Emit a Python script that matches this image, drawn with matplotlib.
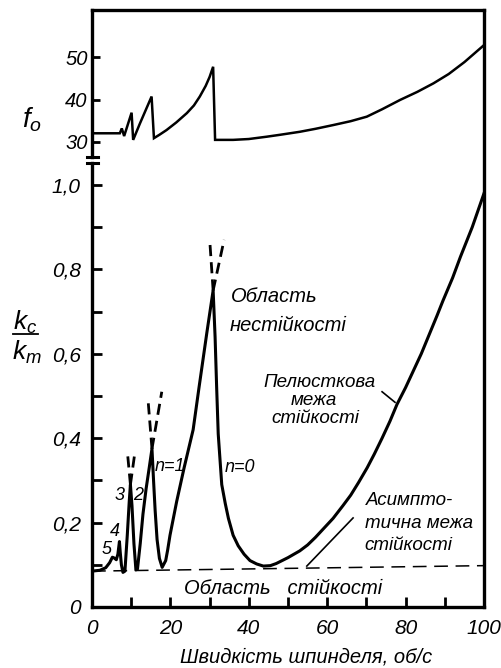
import numpy as np
import matplotlib.pyplot as plt
from matplotlib.lines import Line2D

plt.rcParams['font.family'] = ['Liberation Sans', 'DejaVu Sans']
plt.rcParams['font.style'] = 'italic'
plt.rcParams['mathtext.fontset'] = 'custom'
plt.rcParams['mathtext.it'] = 'Liberation Sans:italic'
plt.rcParams['mathtext.rm'] = 'Liberation Sans:italic'

# top panel: natural frequency f0 vs spindle speed
f0_x = [0, 1.2, 7.1, 7.6, 8.2, 10.1, 10.5, 12.2, 15.2, 15.8, 17.2, 19.0, 21.5, 24.2,
        26.0, 27.5, 29.0, 30.0, 30.9, 31.4, 36.0, 40.0, 44.6, 48.0, 53.0, 57.0, 61.6,
        66.0, 70.1, 74.0, 78.6, 83.0, 87.1, 91.0, 95.0, 100]
f0_y = [32.05, 32.05, 32.05, 33.2, 31.4, 36.9, 30.5, 34.3, 40.7, 30.9, 31.7, 32.8, 34.6,
        36.8, 38.6, 40.7, 43.2, 45.3, 47.7, 30.5, 30.5, 30.7, 31.25, 31.7, 32.4, 33.1,
        34.0, 34.9, 35.96, 37.7, 39.9, 41.8, 43.8, 46.0, 48.8, 52.8]

# bottom panel: stability lobe envelope kc/km
lobe_x = [0, 2.0, 3.5, 4.5, 5.2, 5.7, 6.2, 6.6, 7.0, 7.2, 7.5, 7.9, 8.4, 9.0, 9.5, 9.8,
          10.2, 10.7, 11.2, 11.6, 12.3, 13.0, 13.8, 14.6, 15.3, 15.7, 16.1, 16.6, 17.2,
          17.9, 18.8, 19.3, 19.9, 21.6, 23.5, 25.8, 27.3, 29.3, 30.9, 31.4, 31.8, 32.2,
          33.1, 34.0, 34.8, 36.0, 37.3, 38.8, 40.3, 42.0, 43.7, 45.5, 47.0, 50.0, 53.0,
          55.0, 57.0, 59.0, 61.5, 64.0, 66.0, 68.0, 70.2, 72.0, 74.0, 76.0, 77.8, 80.0,
          82.0, 84.0, 86.0, 88.0, 89.5, 92.0, 94.0, 97.0, 100.0]
lobe_v = [0.085, 0.087, 0.093, 0.105, 0.118, 0.116, 0.112, 0.125, 0.155, 0.13, 0.10, 0.082,
          0.085, 0.17, 0.25, 0.29, 0.24, 0.15, 0.088, 0.09, 0.15, 0.22, 0.28, 0.33, 0.375,
          0.30, 0.23, 0.16, 0.115, 0.094, 0.11, 0.135, 0.17, 0.25, 0.33, 0.42, 0.52, 0.65,
          0.75, 0.64, 0.52, 0.41, 0.29, 0.245, 0.21, 0.17, 0.145, 0.125, 0.11, 0.102, 0.097,
          0.098, 0.103, 0.117, 0.133, 0.147, 0.165, 0.185, 0.21, 0.24, 0.265, 0.295, 0.33,
          0.362, 0.40, 0.44, 0.48, 0.52, 0.56, 0.60, 0.645, 0.69, 0.725, 0.78, 0.83, 0.90,
          0.98]

# dashed continuations of lobe branches above the envelope
ext_segments = [
    ([9.8, 9.0], [0.29, 0.37]),
    ([9.8, 11.0], [0.29, 0.37]),
    ([15.3, 14.3], [0.375, 0.49]),
    ([15.3, 17.8], [0.375, 0.51]),
    ([30.9, 30.1], [0.75, 0.86]),
    ([30.9, 33.7], [0.75, 0.87]),
]

# asymptotic stability limit
asym_x = [0, 100]
asym_v = [0.085, 0.098]

W, H = 502, 668
fig = plt.figure(figsize=(W / 100, H / 100), dpi=100)


def fx(px):
    return px / W


def fy(py):
    return 1 - py / H


L, R = 92, 484
ax1 = fig.add_axes([fx(L), fy(157), (R - L) / W, (157 - 10) / H])
ax2 = fig.add_axes([fx(L), fy(607), (R - L) / W, (607 - 163) / H])

lw_sp = 2.4
for ax in (ax1, ax2):
    ax.set_xlim(0, 100)
    ax.spines['right'].set_visible(False)
    for s in ax.spines.values():
        s.set_linewidth(lw_sp)
ax1.spines['bottom'].set_visible(False)
ax2.spines['top'].set_visible(False)

# top panel
ax1.plot(f0_x, f0_y, color='black', lw=1.8, solid_joinstyle='miter')
ax1.set_ylim(26.47, 61.06)
ax1.set_xticks([])
ax1.set_yticks([30, 40, 50])
ax1.set_yticklabels(['30', '40', '50'])
ax1.tick_params(axis='y', direction='in', length=6, width=2, pad=3, labelsize=14.5)

# bottom panel
ax2.plot(lobe_x, lobe_v, color='black', lw=2.2)
for xs, vs in ext_segments:
    ax2.plot(xs, vs, color='black', lw=2.0, dashes=(4, 2.2))
ax2.plot(asym_x, asym_v, color='black', lw=1.1, dashes=(9, 5))
ax2.set_ylim(0, 1.052)
ax2.set_yticks([0, 0.2, 0.4, 0.6, 0.8, 1.0])
ax2.set_yticklabels(['0', '0,2', '0,4', '0,6', '0,8', '1,0'])
ax2.set_yticks([0.1, 0.3, 0.5, 0.7, 0.9], minor=True)
ax2.set_xticks([0, 20, 40, 60, 80, 100])
ax2.set_xticklabels(['0', '20', '40', '60', '80', '100'])
ax2.set_xticks([10, 30, 50, 70, 90], minor=True)
ax2.tick_params(axis='both', which='both', direction='in', length=7, width=2,
                labelsize=15)
ax2.tick_params(axis='y', pad=8)
ax2.tick_params(axis='x', pad=9)
ax2.tick_params(axis='x', which='both', top=False)
ax2.tick_params(axis='y', which='both', right=False)

# region labels
tk = dict(fontsize=14.5, style='italic', color='black')
ax2.text(35.5, 0.735, 'Область', ha='left', va='center', **tk)
ax2.text(35.2, 0.668, 'нестійкості', ha='left', va='center', **tk)
tm = dict(fontsize=13.5, style='italic', color='black')
ax2.text(58.0, 0.532, 'Пелюсткова', ha='center', va='center', **tm)
ax2.text(56.5, 0.490, 'межа', ha='center', va='center', **tm)
ax2.text(57.0, 0.446, 'стійкості', ha='center', va='center', **tm)
ax2.plot([74.0, 77.3], [0.51, 0.485], color='black', lw=1.2)
ax2.text(70.0, 0.252, 'Асимпто-', ha='left', va='center', **tm)
ax2.text(69.6, 0.199, 'тична межа', ha='left', va='center', **tm)
ax2.text(69.6, 0.145, 'стійкості', ha='left', va='center', **tm)
ax2.plot([66.6, 54.8], [0.211, 0.097], color='black', lw=1.2)
ax2.text(48.7, 0.045, 'Область   стійкості', ha='center', va='center', **tk)

ts = dict(fontsize=13, style='italic', color='black', ha='center', va='center')
ax2.text(19.9, 0.334, 'n=1', **ts)
ax2.text(37.8, 0.33, 'n=0', **ts)
ax2.text(7.1, 0.263, '3', **ts)
ax2.text(11.7, 0.263, '2', **ts)
ax2.text(5.9, 0.18, '4', **ts)
ax2.text(3.8, 0.137, '5', **ts)

# axis labels
fig.text(fx(306), fy(657), 'Швидкість шпинделя, об/с', ha='center', va='center',
         fontsize=14.5, style='italic')
fig.text(fx(32), fy(120), r'$f_o$', ha='center', va='center', fontsize=20)
fig.text(fx(25), fy(322), r'$k_c$', ha='center', va='center', fontsize=19)
fig.text(fx(27), fy(352), r'$k_m$', ha='center', va='center', fontsize=19)
fig.add_artist(Line2D([fx(13), fx(38)], [fy(334), fy(334)], color='black', lw=1.3))

# right border through the break, and break caps on the left axis
fig.add_artist(Line2D([fx(R), fx(R)], [fy(10), fy(607)], color='black', lw=lw_sp))
fig.add_artist(Line2D([fx(87), fx(98)], [fy(157), fy(157)], color='black', lw=2.2))
fig.add_artist(Line2D([fx(87), fx(98)], [fy(163), fy(163)], color='black', lw=2.2))

fig.savefig('out.png', dpi=100)
